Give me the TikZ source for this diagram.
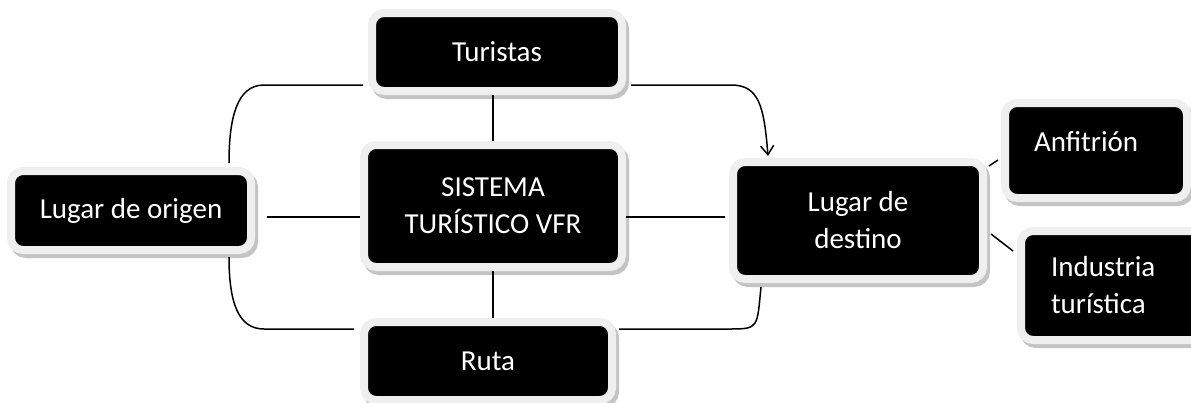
\documentclass[tikz,border=0pt]{standalone}
\usepackage{fontspec}
\setmainfont{Carlito}
\usepackage{tikz}
\usetikzlibrary{shapes, arrows, arrows.meta, positioning, calc, shadows}
\definecolor{ringgray}{HTML}{EFEFEF}
\definecolor{shadegray}{HTML}{C4C4C4}
\tikzstyle{box} = [rectangle, fill=black, draw=ringgray, line width=8pt, rounded corners=12pt, text=white, align=center, font=\fontsize{29}{37}\selectfont, drop shadow={shadow xshift=3pt, shadow yshift=-4pt, fill=shadegray, draw=shadegray, line width=8pt, opacity=1}]
\tikzstyle{link} = [draw=black, line width=1.5pt]

\begin{document}
\begin{tikzpicture}[x=1pt, y=-1pt, >={Straight Barb[length=9pt, width=13pt]}]
        \fill[white] (0,0) rectangle (1191,402);
        \useasboundingbox (0,0) rectangle (1191,402);

        % Middle column
        \node[box, minimum width=250pt, minimum height=78pt] (turistas) at (497, 52) {Turistas};
        \node[box, minimum width=258pt, minimum height=122pt] (sistema) at (493, 206) {SISTEMA\\TURÍSTICO VFR};
        \node[box, minimum width=248pt, minimum height=78pt] (ruta) at (488, 361) {Ruta};

        % Left and right places
        \node[box, minimum width=240pt, minimum height=79pt] (lugar_origen) at (131, 210.5) {Lugar de origen};
        \node[box, minimum width=250pt, minimum height=117pt] (lugar_destino) at (858, 220.5) {Lugar de\\destino};

        % Destination parts
        \node[box, minimum width=182pt, minimum height=95pt, text width=124pt, align=left, text depth=18pt] (anfitrion) at (1096, 150.5) {Anfitrión};
        \node[box, minimum width=182pt, minimum height=109pt, text width=122pt, align=left] (industria) at (1112, 285.5) {Industria\\turística};

        % Straight links
        \draw[link] (sistema.north) -- (sistema.north |- turistas.south);
        \draw[link] (sistema.south) -- (sistema.south |- ruta.north);
        \draw[link] ($(lugar_origen.east)+(12,6.5)$) -- ($(sistema.west)+(0,11)$);
        \draw[link] ($(sistema.east)+(0,11)$) -- ($(lugar_destino.west)+(-4,-3.5)$);
        \draw[link] ($(lugar_destino.north east)+(2,8)$) -- ($(anfitrion.west)+(-3,9.5)$);
        \draw[link] ($(lugar_destino.east)+(4,13.5)$) -- ($(industria.north west)+(-4,24)$);

        % Curved links
        \draw[link] ($(turistas.south west)+(-5,-10)$) -- ++(-99,0) .. controls +(-26,0) and +(0,-48) .. ($(lugar_origen.north east)+(-26,-4)$);
        \draw[link] ($(lugar_origen.south east)+(-26,3)$) .. controls +(0,45) and +(-26,0) .. ($(ruta.north west)+(-96,11)$) -- ($(ruta.north west)+(-6,11)$);
        \draw[link, ->] ($(turistas.south east)+(5,-10)$) -- ++(100,0) .. controls +(28,0) and +(-4,-50) .. ($(lugar_destino.north west)+(39,-2)$);
        \draw[link] ($(lugar_destino.south west)+(32,4)$) .. controls +(-4,40) and +(28,0) .. ($(ruta.north east)+(115,11)$) -- ($(ruta.north east)+(3,11)$);
    \end{tikzpicture}
\end{document}
